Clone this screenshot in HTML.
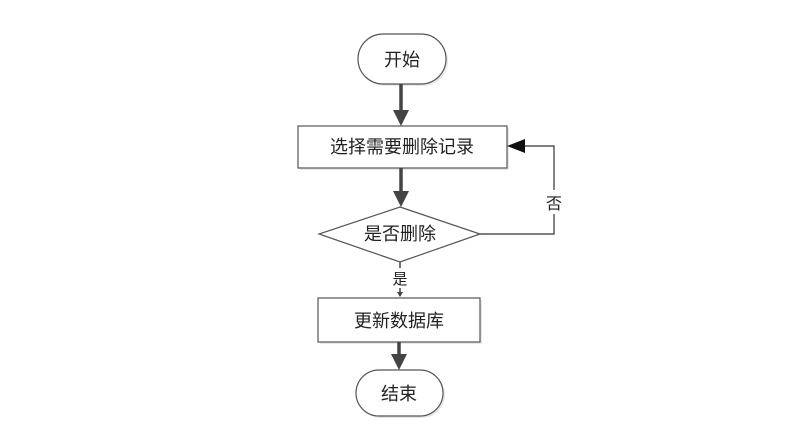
<!DOCTYPE html>
<html><head><meta charset="utf-8"><style>
body{margin:0;background:#fff;}
text{font-family:"Liberation Sans","Noto Sans CJK SC",sans-serif;fill:#222;}
</style></head><body>
<svg width="796" height="442" viewBox="0 0 796 442" xmlns="http://www.w3.org/2000/svg">
<defs>
<marker id="a" markerWidth="8" markerHeight="8" refX="7" refY="4" orient="auto" markerUnits="userSpaceOnUse"><path d="M0,0 L8,4 L0,8z" fill="#444"/></marker>
</defs>
<!-- start -->
<rect x="360" y="36" width="88" height="50" rx="25" fill="#e8e8e8"/>
<rect x="358" y="34" width="88" height="50" rx="25" fill="#fff" stroke="#555" stroke-width="1.2"/>
<text x="402" y="66" font-size="18" text-anchor="middle">开始</text>
<line x1="401" y1="84" x2="401" y2="112" stroke="#444" stroke-width="3.5"/>
<path d="M393,110 L409,110 L401,126z" fill="#444"/>
<!-- process1 -->
<rect x="300" y="128" width="209" height="42" fill="#e8e8e8"/>
<rect x="298" y="126" width="209" height="42" fill="#fff" stroke="#555" stroke-width="1.2"/>
<text x="402" y="153" font-size="18" text-anchor="middle">选择需要删除记录</text>
<line x1="401" y1="168" x2="401" y2="193" stroke="#444" stroke-width="3.5"/>
<path d="M393,191 L409,191 L401,207z" fill="#444"/>
<!-- diamond -->
<path d="M400,207 L480,234 L400,262 L319,234z" fill="#fff" stroke="#555" stroke-width="1.2"/>
<text x="400" y="240" font-size="18" text-anchor="middle">是否删除</text>
<path d="M480,234 L554,234 L554,146 L523,146" fill="none" stroke="#333" stroke-width="1.2"/>
<path d="M525,139 L507,146 L525,153z" fill="#111"/>
<rect x="545" y="190" width="18" height="24" fill="#fff"/>
<text x="554" y="209" font-size="16" text-anchor="middle">否</text>
<line x1="400" y1="262" x2="400" y2="296" stroke="#444" stroke-width="1.5"/>
<rect x="390" y="268" width="20" height="20" fill="#fff"/>
<text x="400" y="284" font-size="15" text-anchor="middle">是</text>
<path d="M397,292 L403,292 L400,297z" fill="#444"/>
<!-- process2 -->
<rect x="320" y="300" width="162" height="44" fill="#e8e8e8"/>
<rect x="318" y="298" width="162" height="44" fill="#fff" stroke="#555" stroke-width="1.2"/>
<text x="399" y="327" font-size="18" text-anchor="middle">更新数据库</text>
<line x1="399" y1="342" x2="399" y2="356" stroke="#444" stroke-width="3.5"/>
<path d="M391,354 L407,354 L399,370z" fill="#444"/>
<!-- end -->
<rect x="358" y="372" width="87" height="46" rx="23" fill="#e8e8e8"/>
<rect x="356" y="370" width="87" height="46" rx="23" fill="#fff" stroke="#555" stroke-width="1.2"/>
<text x="399" y="400" font-size="18" text-anchor="middle">结束</text>
</svg>
</body></html>
